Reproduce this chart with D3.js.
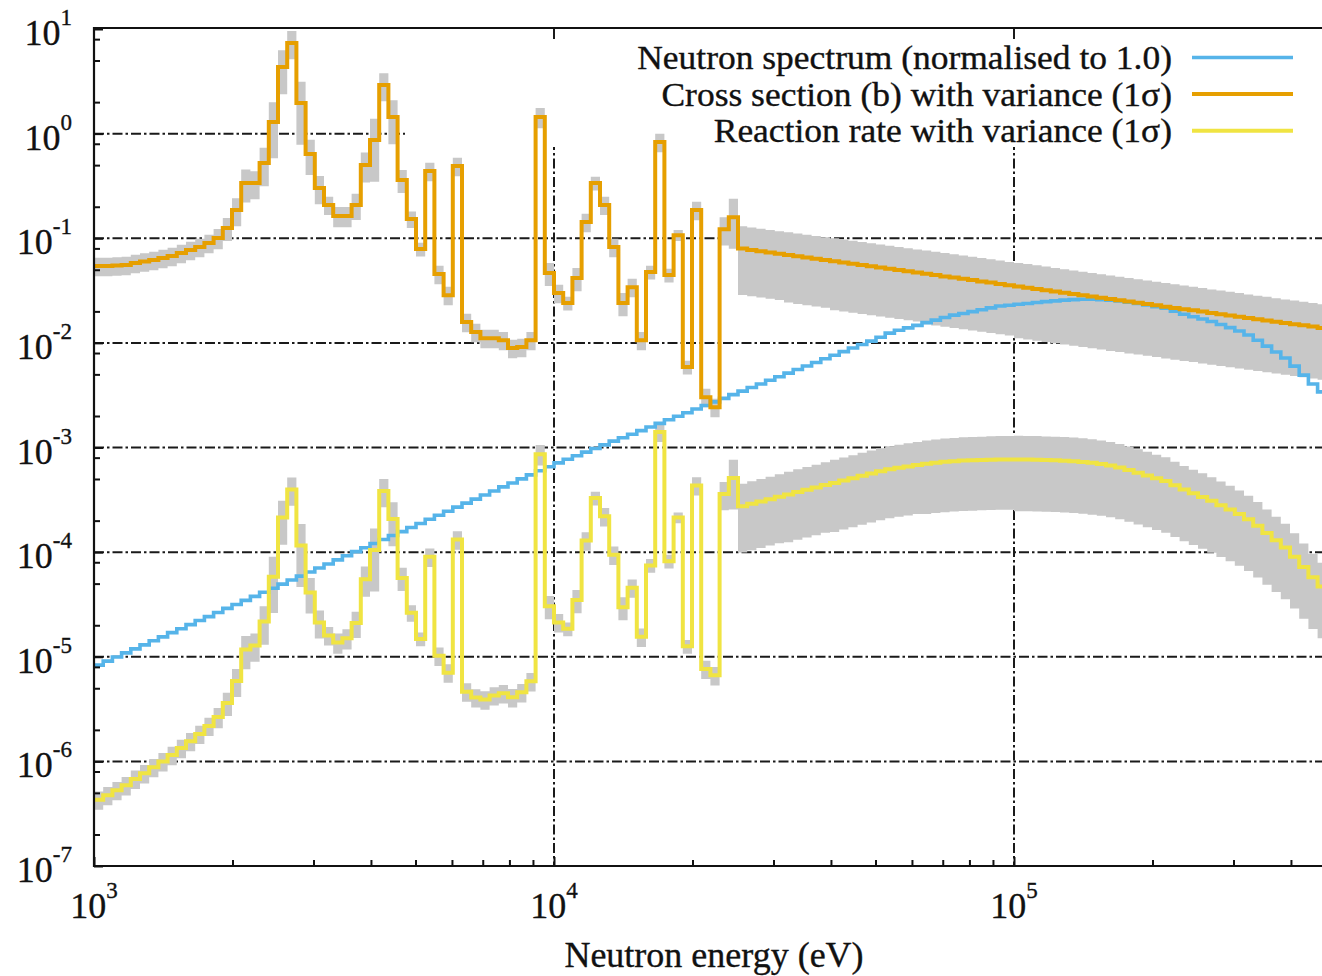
<!DOCTYPE html>
<html>
<head>
<meta charset="utf-8">
<script src="https://cdn.jsdelivr.net/npm/d3@7"></script>
<style>
  html, body { margin: 0; padding: 0; background: #fff; }
  svg { display: block; }
  text { font-family: "Liberation Serif", "Times New Roman", serif; fill: #111; stroke: #111; stroke-width: 0.35px; }
</style>
</head>
<body>
<svg id="chart" width="1322" height="976"></svg>
<script>
// Group structure: equal lethargy bins, 50 groups per decade starting at 1 keV
const groupsPerDecade = 50;
const firstEdgeEV = 1e3;

// Normalised neutron spectrum, one value per group
const spectrum = [
  8.32e-6, 9.09e-6, 9.94e-6, 1.09e-5, 1.19e-5, 1.30e-5, 1.42e-5, 1.55e-5, 1.70e-5, 1.85e-5,
  2.03e-5, 2.22e-5, 2.42e-5, 2.65e-5, 2.90e-5, 3.16e-5, 3.46e-5, 3.78e-5, 4.14e-5, 4.52e-5,
  4.94e-5, 5.41e-5, 5.90e-5, 6.46e-5, 7.06e-5, 7.71e-5, 8.43e-5, 9.22e-5, 1.01e-4, 1.10e-4,
  1.21e-4, 1.32e-4, 1.44e-4, 1.57e-4, 1.72e-4, 1.88e-4, 2.06e-4, 2.25e-4, 2.46e-4, 2.69e-4,
  2.94e-4, 3.21e-4, 3.51e-4, 3.84e-4, 4.20e-4, 4.58e-4, 5.01e-4, 5.48e-4, 6.00e-4, 6.55e-4,
  7.13e-4, 7.71e-4, 8.35e-4, 9.03e-4, 9.77e-4, 1.06e-3, 1.15e-3, 1.24e-3, 1.34e-3, 1.45e-3,
  1.57e-3, 1.70e-3, 1.84e-3, 1.99e-3, 2.15e-3, 2.33e-3, 2.52e-3, 2.73e-3, 2.95e-3, 3.20e-3,
  3.46e-3, 3.74e-3, 4.05e-3, 4.39e-3, 4.75e-3, 5.14e-3, 5.56e-3, 6.01e-3, 6.50e-3, 7.05e-3,
  7.62e-3, 8.24e-3, 8.93e-3, 9.66e-3, 1.04e-2, 1.13e-2, 1.24e-2, 1.32e-2, 1.39e-2, 1.47e-2,
  1.56e-2, 1.65e-2, 1.75e-2, 1.84e-2, 1.91e-2, 1.99e-2, 2.07e-2, 2.16e-2, 2.25e-2, 2.29e-2,
  2.34e-2, 2.38e-2, 2.43e-2, 2.48e-2, 2.52e-2, 2.56e-2, 2.59e-2, 2.61e-2, 2.61e-2, 2.59e-2,
  2.56e-2, 2.52e-2, 2.45e-2, 2.38e-2, 2.30e-2, 2.22e-2, 2.15e-2, 2.01e-2, 1.88e-2, 1.78e-2,
  1.69e-2, 1.60e-2, 1.50e-2, 1.40e-2, 1.30e-2, 1.19e-2, 1.06e-2, 9.31e-3, 8.17e-3, 7.16e-3,
  6.00e-3, 4.92e-3, 4.04e-3, 3.40e-3, 2.80e-3
];

// Group cross section (barns)
const crossSection = [
  0.0542, 0.0542, 0.0548, 0.0554, 0.0579, 0.0599, 0.0619, 0.0646, 0.0676, 0.0722,
  0.0771, 0.0824, 0.0900, 0.1004, 0.1252, 0.186, 0.337, 0.337, 0.524, 1.29,
  4.33, 7.35, 1.96, 0.638, 0.302, 0.208, 0.163, 0.163, 0.208, 0.501,
  0.869, 2.91, 1.44, 0.360, 0.153, 0.0788, 0.439, 0.0455, 0.0286, 0.490,
  0.0158, 0.0127, 0.0111, 0.0111, 0.0106, 0.00892, 0.00912, 0.0106, 1.44, 0.0465,
  0.0299, 0.0240, 0.0416, 0.143, 0.337, 0.208, 0.0824, 0.0240, 0.0341, 0.0106,
  0.0475, 0.831, 0.0445, 0.107, 0.00587, 0.186, 0.00303, 0.00243, 0.122, 0.159,
  0.0796, 0.0774, 0.0753, 0.0732, 0.0712, 0.0693, 0.0674, 0.0655, 0.0637, 0.0620,
  0.0603, 0.0587, 0.0571, 0.0555, 0.0540, 0.0525, 0.0511, 0.0497, 0.0483, 0.0470,
  0.0457, 0.0445, 0.0432, 0.0421, 0.0409, 0.0398, 0.0387, 0.0377, 0.0366, 0.0356,
  0.0346, 0.0337, 0.0328, 0.0319, 0.0310, 0.0301, 0.0293, 0.0285, 0.0277, 0.0270,
  0.0262, 0.0255, 0.0248, 0.0242, 0.0235, 0.0229, 0.0222, 0.0216, 0.0210, 0.0205,
  0.0199, 0.0193, 0.0188, 0.0183, 0.0178, 0.0173, 0.0168, 0.0164, 0.0159, 0.0155,
  0.0151, 0.0147, 0.0143, 0.0139, 0.0135
];

// Group reaction rate
const reactionRate = [
  4.30e-7, 4.75e-7, 5.30e-7, 5.90e-7, 6.80e-7, 7.70e-7, 8.79e-7, 1.00e-6, 1.15e-6, 1.34e-6,
  1.56e-6, 1.83e-6, 2.18e-6, 2.66e-6, 3.62e-6, 5.88e-6, 1.17e-5, 1.28e-5, 2.17e-5, 5.83e-5,
  2.14e-4, 3.97e-4, 1.16e-4, 4.12e-5, 2.13e-5, 1.60e-5, 1.37e-5, 1.50e-5, 2.10e-5, 5.52e-5,
  1.05e-4, 3.84e-4, 2.07e-4, 5.66e-5, 2.63e-5, 1.48e-5, 9.02e-5, 1.02e-5, 7.05e-6, 1.32e-4,
  4.64e-6, 4.08e-6, 3.90e-6, 4.27e-6, 4.47e-6, 4.09e-6, 4.57e-6, 5.83e-6, 8.64e-4, 3.04e-5,
  2.13e-5, 1.85e-5, 3.48e-5, 1.29e-4, 3.29e-4, 2.20e-4, 9.44e-5, 2.97e-5, 4.57e-5, 1.55e-5,
  7.46e-5, 1.41e-3, 8.19e-5, 2.14e-4, 1.26e-5, 4.34e-4, 7.65e-6, 6.64e-6, 3.60e-4, 5.10e-4,
  2.75e-4, 2.90e-4, 3.05e-4, 3.21e-4, 3.38e-4, 3.56e-4, 3.75e-4, 3.94e-4, 4.15e-4, 4.38e-4,
  4.59e-4, 4.83e-4, 5.09e-4, 5.36e-4, 5.64e-4, 5.93e-4, 6.20e-4, 6.40e-4, 6.60e-4, 6.80e-4,
  7.00e-4, 7.15e-4, 7.30e-4, 7.40e-4, 7.50e-4, 7.55e-4, 7.60e-4, 7.65e-4, 7.70e-4, 7.70e-4,
  7.70e-4, 7.68e-4, 7.65e-4, 7.60e-4, 7.55e-4, 7.48e-4, 7.40e-4, 7.28e-4, 7.13e-4, 6.95e-4,
  6.73e-4, 6.43e-4, 6.10e-4, 5.74e-4, 5.41e-4, 5.08e-4, 4.79e-4, 4.36e-4, 3.96e-4, 3.65e-4,
  3.37e-4, 3.09e-4, 2.81e-4, 2.56e-4, 2.31e-4, 2.06e-4, 1.79e-4, 1.52e-4, 1.30e-4, 1.11e-4,
  9.04e-5, 7.21e-5, 5.75e-5, 4.70e-5, 3.80e-5
];

// Relative 1-sigma uncertainty of each group (shared by cross section and reaction rate)
const relSigma = [
  0.20, 0.20, 0.20, 0.20, 0.20, 0.20, 0.20, 0.20, 0.20, 0.20,
  0.20, 0.20, 0.20, 0.22, 0.25, 0.30, 0.35, 0.30, 0.40, 0.55,
  0.45, 0.30, 0.60, 0.37, 0.30, 0.20, 0.22, 0.22, 0.28, 0.32,
  0.60, 0.30, 0.45, 0.25, 0.18, 0.15, 0.20, 0.20, 0.20, 0.20,
  0.20, 0.20, 0.20, 0.20, 0.20, 0.20, 0.20, 0.20, 0.22, 0.25,
  0.20, 0.15, 0.25, 0.20, 0.15, 0.20, 0.20, 0.25, 0.20, 0.20,
  0.15, 0.20, 0.15, 0.12, 0.15, 0.20, 0.20, 0.20, 0.30, 0.50,
  0.64, 0.64, 0.64, 0.64, 0.64, 0.65, 0.65, 0.65, 0.65, 0.65,
  0.66, 0.66, 0.66, 0.66, 0.66, 0.66, 0.66, 0.66, 0.66, 0.66,
  0.67, 0.67, 0.67, 0.67, 0.67, 0.67, 0.67, 0.67, 0.67, 0.67,
  0.68, 0.68, 0.68, 0.68, 0.68, 0.68, 0.68, 0.68, 0.68, 0.68,
  0.68, 0.68, 0.68, 0.68, 0.68, 0.68, 0.68, 0.68, 0.68, 0.68,
  0.68, 0.68, 0.68, 0.68, 0.68, 0.68, 0.68, 0.68, 0.68, 0.68,
  0.68, 0.68, 0.68, 0.68, 0.68
];

const xTickExponents = [3, 4, 5];
const yTickExponents = [1, 0, -1, -2, -3, -4, -5, -6, -7];
const xMinorMultipliers = [2, 3, 4, 5, 6, 7, 8, 9];
const yMinorMultipliers = [2, 5, 8];
const legendLabels = [
  "Neutron spectrum (normalised to 1.0)",
  "Cross section (b) with variance (1\u03c3)",
  "Reaction rate with variance (1\u03c3)"
];
const xAxisTitle = "Neutron energy (eV)";

// ---- styling ----
const colors = { spectrum: "#56B4E9", xs: "#E69F00", rr: "#F0E442", band: "#C8C8C8", ink: "#111" };
const fontPx = 36, legendPx = 33, supPx = 23;

const svg = d3.select("#chart");
const plot = { left: 94, right: 1336, top: 29, bottom: 866 };

const nGroups = spectrum.length;
const edges = d3.range(nGroups + 1).map(i => firstEdgeEV * Math.pow(10, i / groupsPerDecade));

const x = d3.scaleLog().domain([edges[0], edges[nGroups]]).range([plot.left, plot.right]);
const y = d3.scaleLog().domain([1e-7, 1e1]).range([plot.bottom, plot.top]);

svg.append("defs").append("clipPath").attr("id", "plotClip")
  .append("rect")
  .attr("x", plot.left).attr("y", plot.top)
  .attr("width", plot.right - plot.left).attr("height", plot.bottom - plot.top);

// ---- grid ----
const gridDash = "10,3,2.5,3";
const grid = svg.append("g").attr("stroke", "#1a1a1a").attr("stroke-width", 2)
  .attr("stroke-dasharray", gridDash).attr("fill", "none");
grid.selectAll("line.gx").data(xTickExponents.slice(1).map(e => Math.pow(10, e))).join("line")
  .attr("class", "gx")
  .attr("x1", d => x(d)).attr("x2", d => x(d))
  .attr("y1", plot.top).attr("y2", plot.bottom);
grid.selectAll("line.gy").data(yTickExponents.slice(1, -1).map(e => Math.pow(10, e))).join("line")
  .attr("class", "gy")
  .attr("x1", plot.left).attr("x2", plot.right)
  .attr("y1", d => y(d)).attr("y2", d => y(d));

// ---- opaque key background ----
svg.append("rect")
  .attr("x", 405).attr("y", 40)
  .attr("width", plot.right - 405).attr("height", 107)
  .attr("fill", "#fff");

// ---- data ----
function stepPoints(values) {
  const pts = values.map((v, i) => ({ e: edges[i], v, s: relSigma[i] }));
  pts.push({ e: edges[nGroups], v: values[nGroups - 1], s: relSigma[nGroups - 1] });
  return pts;
}

const band = d3.area()
  .x(d => x(d.e))
  .y0(d => y(d.v * (1 - d.s)))
  .y1(d => y(d.v * (1 + d.s)))
  .curve(d3.curveStepAfter);

const stepLine = d3.line()
  .x(d => x(d.e))
  .y(d => y(d.v))
  .curve(d3.curveStepAfter);

const data = svg.append("g").attr("clip-path", "url(#plotClip)");

data.append("path").attr("d", band(stepPoints(crossSection))).attr("fill", colors.band);
data.append("path").attr("d", band(stepPoints(reactionRate))).attr("fill", colors.band);

data.append("path").attr("d", stepLine(stepPoints(spectrum)))
  .attr("fill", "none").attr("stroke", colors.spectrum).attr("stroke-width", 3.6);
data.append("path").attr("d", stepLine(stepPoints(crossSection)))
  .attr("fill", "none").attr("stroke", colors.xs).attr("stroke-width", 4);
data.append("path").attr("d", stepLine(stepPoints(reactionRate)))
  .attr("fill", "none").attr("stroke", colors.rr).attr("stroke-width", 4);

// ---- axes ticks ----
const xMajor = xTickExponents.map(e => Math.pow(10, e));
const xMinor = [];
xTickExponents.forEach(e => xMinorMultipliers.forEach(m => {
  const v = m * Math.pow(10, e);
  if (v < edges[nGroups]) xMinor.push(v);
}));
const yMajor = yTickExponents.map(e => Math.pow(10, e));
const yMinor = [];
yTickExponents.slice(1).forEach(e => yMinorMultipliers.forEach(m => yMinor.push(m * Math.pow(10, e))));

function styleAxis(g) {
  g.select(".domain").remove();
  g.selectAll(".tick line").attr("stroke", colors.ink).attr("stroke-width", 2);
  g.selectAll(".tick text").remove();
}
svg.append("g").attr("transform", `translate(0,${plot.bottom})`)
  .call(d3.axisBottom(x).tickValues(xMinor).tickSize(-6).tickFormat("")).call(styleAxis);
svg.append("g").attr("transform", `translate(0,${plot.bottom})`)
  .call(d3.axisBottom(x).tickValues(xMajor).tickSize(-9).tickFormat("")).call(styleAxis);
svg.append("g").attr("transform", `translate(${plot.left},0)`)
  .call(d3.axisLeft(y).tickValues(yMinor).tickSize(-6).tickFormat("")).call(styleAxis);
svg.append("g").attr("transform", `translate(${plot.left},0)`)
  .call(d3.axisLeft(y).tickValues(yMajor).tickSize(-9).tickFormat("")).call(styleAxis);

// frame (left, top, bottom)
svg.append("path")
  .attr("d", `M${plot.right},${plot.top - 1}H${plot.left}V${plot.bottom}H${plot.right}`)
  .attr("fill", "none").attr("stroke", colors.ink).attr("stroke-width", 2.2);

// ---- tick labels ----
function powerLabel(sel, exp) {
  sel.append("tspan").text("10");
  sel.append("tspan").attr("dy", -20).attr("font-size", supPx).text(String(exp));
}
xTickExponents.forEach(e => {
  svg.append("text")
    .attr("x", x(Math.pow(10, e))).attr("y", 918)
    .attr("text-anchor", "middle").attr("font-size", fontPx)
    .call(powerLabel, e);
});
yTickExponents.forEach(e => {
  svg.append("text")
    .attr("x", 72).attr("y", y(Math.pow(10, e)) + 16)
    .attr("text-anchor", "end").attr("font-size", fontPx)
    .call(powerLabel, e);
});

svg.append("text")
  .attr("x", (plot.left + plot.right) / 2 - 1).attr("y", 967)
  .attr("text-anchor", "middle").attr("font-size", fontPx)
  .text(xAxisTitle);

// ---- legend: right-aligned labels (slightly widened glyphs) plus line samples ----
const legendColors = [colors.spectrum, colors.xs, colors.rr];
const legendWidths = [3.6, 4, 4];
const rowY = k => 57.5 + 36.6 * k;
const legendTextGroup = svg.append("g").attr("transform", "translate(1172,0) scale(1.075,1)");
legendLabels.forEach((label, k) => {
  legendTextGroup.append("text")
    .attr("x", 0).attr("y", rowY(k) + 11.5)
    .attr("text-anchor", "end").attr("font-size", legendPx)
    .text(label);
  svg.append("line")
    .attr("x1", 1192).attr("x2", 1293).attr("y1", rowY(k)).attr("y2", rowY(k))
    .attr("stroke", legendColors[k]).attr("stroke-width", legendWidths[k]);
});
</script>
</body>
</html>
